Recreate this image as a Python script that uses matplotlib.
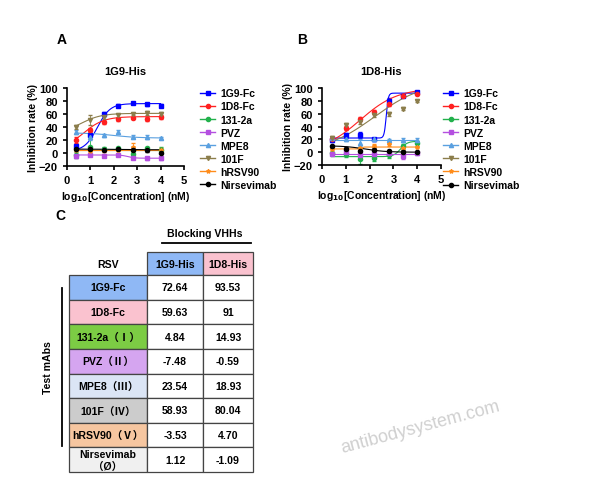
import numpy as np
import matplotlib
matplotlib.use("Agg")
import matplotlib.pyplot as plt
from matplotlib.patches import Rectangle

plt.rcParams['font.family'] = ['Liberation Sans', 'Noto Sans CJK SC', 'DejaVu Sans']
plt.rcParams['font.weight'] = 'bold'

x = [0.4, 1.0, 1.6, 2.2, 2.8, 3.4, 4.0]
names = ['1G9-Fc', '1D8-Fc', '131-2a', 'PVZ', 'MPE8', '101F', 'hRSV90', 'Nirsevimab']
colors = ['#0000ff', '#ff2020', '#22b14c', '#b44fe0', '#5aa0e0', '#8b7d4b', '#ff8c1a', '#000000']
markers = ['s', 'o', 'o', 's', '^', 'v', '*', 'o']

A_vals = {
    '1G9-Fc': [11, 28, 60, 73, 77, 75, 73],
    '1D8-Fc': [20, 36, 47, 52, 54, 53, 56],
    '131-2a': [-3, 10, 6, 7, -2, 7, 5],
    'PVZ': [-4, -3, -4, -3, -7, -8, -8],
    'MPE8': [33, 25, 27, 32, 25, 24, 23],
    '101F': [40, 51, 55, 58, 60, 62, 60],
    'hRSV90': [5, 3, 4, 5, 10, 5, 5],
    'Nirsevimab': [6, 6, 5, 6, 5, 4, 0],
}
A_err = {
    '1G9-Fc': [3, 3, 3, 2, 2, 2, 2], '1D8-Fc': [5, 3, 2, 2, 2, 3, 3],
    '131-2a': [5, 12, 3, 2, 2, 3, 5], 'PVZ': [3, 2, 2, 2, 2, 2, 2],
    'MPE8': [3, 5, 3, 3, 2, 3, 2], '101F': [3, 8, 3, 2, 2, 3, 3],
    'hRSV90': [2, 2, 2, 2, 5, 2, 2], 'Nirsevimab': [2, 2, 2, 2, 2, 2, 2],
}
# 4PL fit parameters: bottom, top, logEC50, hill
A_fit = {
    '1G9-Fc': (3, 76, 1.3, 1.6), '1D8-Fc': (5, 56, 0.7, 1.0),
    '131-2a': (5, 5, 2, 1), 'PVZ': (-3, -8, 2.6, 3.0),
    'MPE8': (31, 23, 2.0, 0.8), '101F': (30, 61, 0.6, 1.0),
    'hRSV90': (5, 5, 2, 1), 'Nirsevimab': (6, 5, 2, 1),
}
B_vals = {
    '1G9-Fc': [19, 26, 27, 20, 80, 88, 93],
    '1D8-Fc': [21, 38, 52, 62, 75, 88, 91],
    '131-2a': [-2, -3, -10, -9, -5, 10, 15],
    'PVZ': [-3, 0, -5, -3, -2, -6, -2],
    'MPE8': [22, 20, 15, 20, 19, 19, 19],
    '101F': [22, 42, 47, 58, 60, 68, 80],
    'hRSV90': [5, 5, 6, 10, 12, 7, 8],
    'Nirsevimab': [9, 5, 2, 4, 2, 1, 0],
}
B_err = {
    '1G9-Fc': [3, 4, 5, 2, 4, 2, 3], '1D8-Fc': [3, 3, 3, 3, 3, 2, 2],
    '131-2a': [3, 5, 8, 4, 4, 3, 3], 'PVZ': [2, 3, 3, 2, 2, 4, 2],
    'MPE8': [2, 3, 5, 2, 2, 3, 3], '101F': [3, 4, 3, 3, 3, 2, 2],
    'hRSV90': [2, 2, 2, 2, 2, 2, 2], 'Nirsevimab': [2, 3, 2, 2, 2, 2, 2],
}
B_fit = {
    '1G9-Fc': (22, 92, 2.7, 10), '1D8-Fc': (0, 100, 1.6, 0.55),
    '131-2a': (-7, 17, 3.3, 3), 'PVZ': (-3, -3, 2, 1),
    'MPE8': (19, 19, 2, 1), '101F': (0, 110, 2.2, 0.42),
    'hRSV90': (5, 8, 1.7, 20), 'Nirsevimab': (10, 0, 1.8, 1.0),
}

rows = ['1G9-Fc', '1D8-Fc', '131-2a（Ⅰ）', 'PVZ（Ⅱ）', 'MPE8（Ⅲ）', '101F（Ⅳ）', 'hRSV90（Ⅴ）', 'Nirsevimab\n（Ø）']
col_1G9 = ['72.64', '59.63', '4.84', '-7.48', '23.54', '58.93', '-3.53', '1.12']
col_1D8 = ['93.53', '91', '14.93', '-0.59', '18.93', '80.04', '4.70', '-1.09']
row_colors = ['#8fb8f5', '#fac2cf', '#7ccc44', '#d5a5f0', '#dbe5f5', '#cccccc', '#f6c6a0', '#f0f0f0']

W, H = 596, 481
fig = plt.figure(figsize=(W/100, H/100), dpi=100)

def fig_rect(l, t, r, b):
    return [l/W, 1-b/H, (r-l)/W, (b-t)/H]

def panel(rect, vals, errs, fits, title, legx):
    ax = fig.add_axes(rect)
    xs = np.linspace(0.4, 4.0, 200)
    for n, c, m in zip(names, colors, markers):
        b, t, e, h = fits[n]
        ax.plot(xs, b + (t-b)/(1+10**((e-xs)*h)), color=c, lw=0.8)
        ax.errorbar(x, vals[n], yerr=errs[n], fmt=m, color=c, ms=3, lw=0, elinewidth=0.6, capsize=1.5)
    ax.set_xlim(0, 5); ax.set_ylim(-20, 100)
    ax.set_xticks(range(6)); ax.set_yticks(range(-20, 101, 20))
    for s in ['top', 'right']:
        ax.spines[s].set_visible(False)
    for s in ['left', 'bottom']:
        ax.spines[s].set_linewidth(1.2)
    ax.tick_params(labelsize=8, width=1.2, length=3)
    ax.set_ylabel('Inhibition rate (%)', fontsize=7.5, fontweight='bold', labelpad=1)
    ax.set_xlabel('log$_{\\mathbf{10}}$[Concentration] (nM)', fontsize=7.5, fontweight='bold', labelpad=3)
    ax.set_title(title, fontsize=8, fontweight='bold', pad=10)
    handles = [plt.Line2D([], [], color=c, marker=m, ms=3, lw=1) for c, m in zip(colors, markers)]
    ax.legend(handles, names, loc='upper left', bbox_to_anchor=(legx, 1.05), frameon=False,
              fontsize=7.5, handlelength=1.5, labelspacing=0.3, borderaxespad=0, handletextpad=0.5)

panel(fig_rect(67, 89, 184, 167), A_vals, A_err, A_fit, '1G9-His', 1.1)
panel(fig_rect(322, 89, 441, 166), B_vals, B_err, B_fit, '1D8-His', 0.98)

ov = fig.add_axes([0, 0, 1, 1]); ov.set_xlim(0, W); ov.set_ylim(H, 0); ov.axis('off')
ov.text(57, 40, 'A', fontsize=10, fontweight='bold', va='center')
ov.text(297, 40, 'B', fontsize=10, fontweight='bold', va='center')
ov.text(55, 216, 'C', fontsize=10, fontweight='bold', va='center')

top_h, bot_h = 253, 276
ys = np.linspace(276, 473, 9)
fs = 7.6
ov.text(108, 265, 'RSV', ha='center', va='center', fontsize=fs)
for (l, r), lab, fc in zip([(147, 203), (203, 253)], ['1G9-His', '1D8-His'], ['#8fb8f5', '#fac2cf']):
    ov.add_patch(Rectangle((l, top_h), r-l, bot_h-top_h, fc=fc, ec='#444444', lw=0.9))
    ov.text((l+r)/2, 265, lab, ha='center', va='center', fontsize=fs)
for i in range(8):
    t, b = ys[i], ys[i+1]
    ov.add_patch(Rectangle((69, t), 78, b-t, fc=row_colors[i], ec='#444444', lw=0.9))
    ov.add_patch(Rectangle((147, t), 56, b-t, fc='white', ec='#444444', lw=0.9))
    ov.add_patch(Rectangle((203, t), 50, b-t, fc='white', ec='#444444', lw=0.9))
    cy = (t+b)/2
    ov.text(108, cy, rows[i], ha='center', va='center', fontsize=fs, linespacing=1.2)
    ov.text(175, cy, col_1G9[i], ha='center', va='center', fontsize=fs)
    ov.text(228, cy, col_1D8[i], ha='center', va='center', fontsize=fs)
ov.text(205, 234, 'Blocking VHHs', ha='center', va='center', fontsize=fs)
ov.plot([162, 251], [244, 244], color='black', lw=1.3)
ov.plot([62, 62], [289, 447], color='black', lw=1.3)
ov.text(48, 368, 'Test mAbs', rotation=90, ha='center', va='center', fontsize=fs)
ov.text(420, 428, 'antibodysystem.com', rotation=15, ha='center', va='center', fontsize=13,
        color='#d0d0d0', fontweight='normal')

fig.savefig('out.png', dpi=100)
